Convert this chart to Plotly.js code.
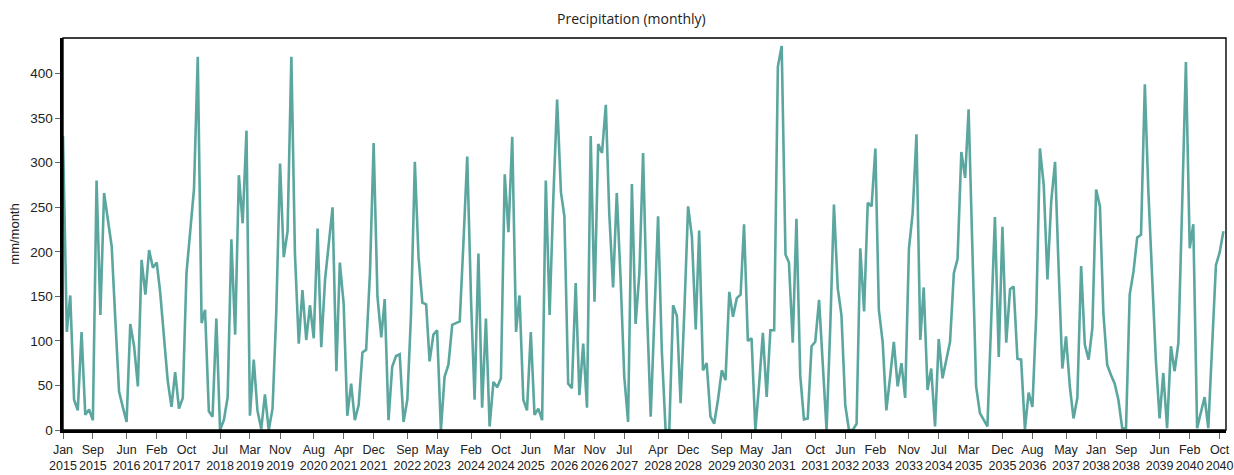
<!DOCTYPE html>
<html>
<head>
<meta charset="utf-8">
<script src="https://cdn.plot.ly/plotly-3.0.1.min.js"></script>
<style>html,body{margin:0;padding:0;background:#fff;}#chart{width:1234px;height:475px;}</style>
</head>
<body>
<div id="chart"></div>
<script>
// Monthly precipitation (mm/month), starting January 2015
const startYear = 2015;
const precip = [
330,110,151,34,22,110,17,23,11,280,129,266,
236,206,125,43,26,9,119,94,49,191,152,202,
182,188,155,101,56,26,65,24,36,176,222,270,
419,120,135,21,15,125,0,11,37,214,107,286,
232,336,16,79,22,1,40,0,24,131,299,194,
223,419,198,97,157,101,140,103,226,93,169,210,
250,66,188,142,16,52,11,28,87,90,176,322,
150,104,147,11,71,83,85,9,34,130,301,194,
143,141,77,107,112,0,60,73,118,120,122,210,
307,146,34,198,25,125,4,54,48,58,287,222,
329,110,151,34,22,110,17,24,11,280,129,260,
371,267,240,52,47,165,39,97,25,330,144,321,
311,365,243,160,266,170,60,9,276,119,176,311,
137,15,127,240,90,0,0,140,128,30,135,251,
217,113,224,67,75,15,7,34,67,56,155,127,
148,152,231,100,103,0,50,109,37,112,112,408,
431,197,188,98,237,61,12,13,94,99,146,70,
0,120,253,159,129,28,0,0,7,204,133,255,
251,316,135,99,22,60,99,49,75,36,204,243,
332,101,160,45,69,4,102,58,79,99,176,192,
312,283,360,200,49,19,12,4,124,239,82,228,
98,158,161,80,79,1,42,26,130,316,275,169,
257,301,185,69,105,49,13,36,184,96,79,114,
270,251,131,73,62,52,34,2,2,152,178,216,
219,388,270,170,80,13,64,2,94,66,98,250,
413,204,231,2,19,37,2,95,185,199,223
];
const tickMonths = ['2015-01','2015-09','2016-06','2017-02','2017-10','2018-07','2019-03','2019-11',
'2020-08','2021-04','2021-12','2022-09','2023-05','2024-02','2024-10','2025-06','2026-03','2026-11',
'2027-07','2028-04','2028-12','2029-09','2030-05','2031-01','2031-10','2032-06','2033-02','2033-11',
'2034-07','2035-03','2035-12','2036-08','2037-05','2038-01','2038-09','2039-06','2040-02','2040-10'];
const monthNames = ['Jan','Feb','Mar','Apr','May','Jun','Jul','Aug','Sep','Oct','Nov','Dec'];
const yTicks = [0,50,100,150,200,250,300,350,400];

function pad(n){return (n<10?'0':'')+n;}
const dates = precip.map((v,i)=>{
  const y = startYear + Math.floor(i/12);
  const m = (i%12)+1;
  return y+'-'+pad(m)+'-01';
});
const tickVals = tickMonths.map(s=>s+'-01');
const tickText = tickMonths.map(s=>{
  const [y,m] = s.split('-');
  return monthNames[parseInt(m,10)-1]+'<br>'+y;
});

const trace = {
  x: dates, y: precip, type:'scatter', mode:'lines',
  line:{color:'#5ba79f', width:2.6},
  hoverinfo:'skip'
};
const layout = {
  width:1234, height:475,
  margin:{l:63, r:8, t:38, b:45},
  paper_bgcolor:'#fff', plot_bgcolor:'#fff',
  showlegend:false,
  title:{text:'Precipitation (monthly)', x:0.5117, xref:'container', xanchor:'center',
         y:0.96, yref:'container', yanchor:'middle',
         font:{family:'Open Sans, Noto Sans, sans-serif', size:14, color:'#222'}},
  xaxis:{
    type:'date', range:['2015-01-01','2040-11-22'],
    tickmode:'array', tickvals:tickVals, ticktext:tickText, tickangle:0,
    ticks:'outside', ticklen:6, tickwidth:1, tickcolor:'#666',
    showline:true, linecolor:'#000', linewidth:2.6,
    showgrid:false, zeroline:false, automargin:false,
    tickfont:{family:'Liberation Sans, Arial, sans-serif', size:12.5, color:'#222'}
  },
  yaxis:{
    range:[0,440], tickmode:'array', tickvals:yTicks,
    ticks:'outside', ticklen:5, tickwidth:1, tickcolor:'#666',
    showline:true, linecolor:'#000', linewidth:2.6,
    showgrid:false, zeroline:false, automargin:false,
    title:{text:'mm/month', standoff:8, font:{family:'Liberation Sans, Arial, sans-serif', size:13, color:'#222'}},
    tickfont:{family:'Liberation Sans, Arial, sans-serif', size:13.5, color:'#222'}
  },
  shapes:[{type:'rect', xref:'paper', yref:'paper', x0:0, x1:1, y0:0, y1:1,
           line:{color:'#000', width:1.4}, fillcolor:'rgba(0,0,0,0)', layer:'above'}]
};
Plotly.newPlot('chart',[trace],layout,{displayModeBar:false, staticPlot:true});
</script>
</body>
</html>
